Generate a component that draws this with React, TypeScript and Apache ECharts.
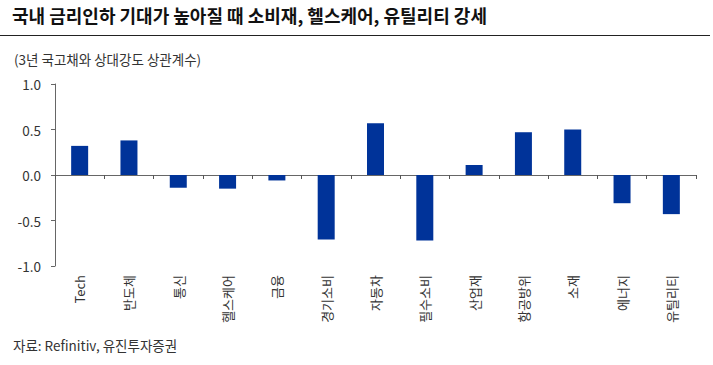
import React, { useEffect, useRef } from "react";
import * as echarts from "echarts";

const categories = ["Tech", "반도체", "통신", "헬스케어", "금융", "경기소비", "자동차", "필수소비", "산업재", "항공방위", "소재", "에너지", "유틸리티"];
const values = [0.32, 0.38, -0.14, -0.15, -0.06, -0.71, 0.57, -0.72, 0.11, 0.47, 0.5, -0.31, -0.43];
const yTicks = { min: -1, max: 1, interval: 0.5 };
const titleText = "국내 금리인하 기대가 높아질 때 소비재, 헬스케어, 유틸리티 강세";
const subtitleText = "(3년 국고채와 상대강도 상관계수)";
const sourceText = "자료: Refinitiv, 유진투자증권";

const FONT = "'Noto Sans CJK KR', 'Noto Sans', sans-serif";

export default function App() {
  const ref = useRef<HTMLDivElement>(null);
  useEffect(() => {
    document.body.style.margin = "0";
    const chart = echarts.init(ref.current!, null, { renderer: "svg" });
    chart.setOption({
      animation: false,
      backgroundColor: "#ffffff",
      textStyle: { fontFamily: FONT },
      graphic: [
        { type: "text", left: 12, top: 6, style: { text: titleText, font: `bold 18px ${FONT}`, fill: "#111" } },
        { type: "line", shape: { x1: 0, y1: 35.5, x2: 710, y2: 35.5 }, style: { stroke: "#222", lineWidth: 1.2 } },
        { type: "text", left: 14, top: 52, style: { text: subtitleText, font: `13.5px ${FONT}`, fill: "#333" } },
        { type: "text", left: 13, top: 338, style: { text: sourceText, font: `13.5px ${FONT}`, fill: "#333" } },
      ],
      grid: { left: 55, right: 17, top: 84, bottom: 99, containLabel: false, outerBoundsMode: "none" },
      xAxis: [
        {
          type: "category",
          data: categories,
          position: "bottom",
          boundaryGap: true,
          axisLine: { show: false, onZero: false },
          axisTick: { show: false },
          axisLabel: { rotate: 90, margin: 9, interval: 0, fontSize: 13, color: "#333", fontFamily: FONT },
        },
        {
          type: "category",
          data: categories,
          position: "top",
          offset: -91,
          boundaryGap: true,
          axisLine: { show: true, onZero: false, lineStyle: { color: "#666", width: 1 } },
          axisTick: { show: true, inside: true, length: 4, interval: 0, lineStyle: { color: "#555" } },
          axisLabel: { show: false },
        },
      ],
      yAxis: {
        type: "value",
        min: yTicks.min,
        max: yTicks.max,
        interval: yTicks.interval,
        splitLine: { show: false },
        axisLine: { show: true, onZero: false, lineStyle: { color: "#666" } },
        axisTick: { show: true, length: 4, lineStyle: { color: "#666" } },
        axisLabel: { formatter: (v: number) => v.toFixed(1), fontSize: 13.5, color: "#333", margin: 14, fontFamily: FONT },
      },
      series: [
        {
          type: "bar",
          xAxisIndex: 0,
          data: values,
          barWidth: 17,
          itemStyle: { color: "#003399" },
        },
      ],
    });
    return () => chart.dispose();
  }, []);
  return <div ref={ref} style={{ width: 713, height: 365 }} />;
}
